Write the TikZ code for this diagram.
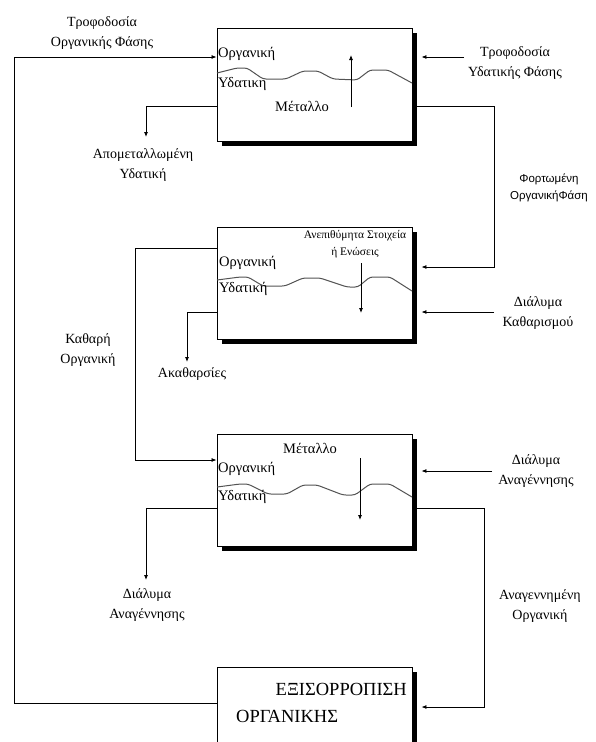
\documentclass[tikz,border=0pt]{standalone}
\usepackage{fontspec}
\setmainfont{Liberation Serif}
\newfontfamily\grsans{Liberation Sans}
\usetikzlibrary{arrows.meta,shadows}
\begin{document}
\begin{tikzpicture}[x=1pt,y=-1pt,
  lbl/.style={font=\fontsize{14}{19.5}\selectfont, align=center, inner sep=0pt},
  sanslbl/.style={font=\grsans\fontsize{11.5}{17}\selectfont, align=center, inner sep=0pt},
  inlbl/.style={font=\fontsize{14.5}{15}\selectfont, inner sep=0pt, anchor=west},
  unit/.style={draw, line width=0.9pt, fill=white, minimum width=195pt, inner sep=0pt,
    drop shadow={shadow xshift=5pt, shadow yshift=-5pt, fill=black, opacity=1}},
  conn/.style={line width=0.8pt},
  arr/.style={conn, -{Latex[length=5pt,width=4pt]}},
  wave/.style={line width=1pt, gray!65!black, rounded corners=3pt},
]
\path[use as bounding box] (0,0) rectangle (595,742);
\clip (0,0) rectangle (595,742);

% units
\node[unit, minimum height=113pt] (b1) at (314.5,84.5) {};
\node[unit, minimum height=112pt] (b2) at (314.5,283) {};
\node[unit, minimum height=112pt] (b3) at (314.5,490) {};
\node[unit, minimum height=110pt] (b4) at (314.5,722) {};

% waves
\draw[wave] (217,73) -- (237,68) -- (247,68) -- (263,79) -- (286,79) -- (303,71) -- (318,71) -- (333,79) -- (357,80) -- (370,70) -- (388,70) -- (412,83);
\draw[wave] (217,280) -- (240,277) -- (248,277) -- (263,286) -- (285,286) -- (303,278) -- (320,278) -- (347,287) -- (358,287) -- (370,277) -- (390,277) -- (412,291);
\draw[wave] (217,487) -- (240,484) -- (248,484) -- (268,494) -- (287,494) -- (303,485) -- (317,485) -- (343,495) -- (355,495) -- (370,484) -- (390,484) -- (412,497);

% inner texts
\node[inlbl] (o1) at (218,54) {Οργανική};
\node[inlbl] (y1) at (218,84) {Υδατικη};
\node[inlbl, anchor=center] (m1) at (302,106) {Μέταλλο};
\node[font=\fontsize{11.5}{17}\selectfont, align=center, inner sep=0pt] (u2) at (355,244) {Ανεπιθύμητα Στοιχεία\\ή Ενώσεις};
\node[inlbl] (o2) at (219,263) {Οργανική};
\node[inlbl] (y2) at (219,289) {Υδατική};
\node[inlbl, anchor=center] (m3) at (310,448) {Μέταλλο};
\node[inlbl] (o3) at (218,469) {Οργανική};
\node[inlbl] (y3) at (218,497) {Υδατική};
\node[font=\fontsize{18.5}{20}\selectfont, anchor=base east, inner sep=0pt] (t4a) at (407,695) {ΕΞΙΣΟΡΡΟΠΙΣΗ};
\node[font=\fontsize{18.5}{20}\selectfont, anchor=base west, inner sep=0pt] (t4b) at (236,722) {ΟΡΓΑΝΙΚΗΣ};

% inner arrows
\coordinate (a1s) at (351,107); \coordinate (a1e) at (351,55);
\coordinate (a2s) at (361,263); \coordinate (a2e) at (361,313);
\coordinate (a3s) at (360,458); \coordinate (a3e) at (360,520);
\draw[arr] (a1s) -- (a1e);
\draw[arr] (a2s) -- (a2e);
\draw[arr] (a3s) -- (a3e);

% outer labels
\node[lbl] (lFO) at (102,33) {Τροφοδοσία\\Οργανικής Φάσης};
\node[lbl] (lFA) at (515,63) {Τροφοδοσία\\Υδατικής Φάσης};
\node[lbl] (lDA) at (143,165) {Απομεταλλωμένη\\Υδατική};
\node[sanslbl] (lLO) at (549,188) {Φορτωμένη\\ΟργανικήΦάση};
\node[lbl] (lKL) at (538,313) {Διάλυμα\\Καθαρισμού};
\node[lbl] (lKO) at (88,350) {Καθαρή\\Οργανική};
\node[lbl] (lAK) at (192,374) {Ακαθαρσίες};
\node[lbl] (lRA) at (536,471) {Διάλυμα\\Αναγέννησης};
\node[lbl] (lRB) at (147,605) {Διάλυμα\\Αναγέννησης};
\node[lbl] (lRO) at (540,606) {Αναγεννημένη\\Οργανική};

% free ends / corners
\coordinate (cL) at (14,57);
\coordinate (fA) at (464,57);
\coordinate (dA) at (146,137);
\coordinate (cR1) at (494,106);
\coordinate (kA) at (494,312);
\coordinate (kO) at (135,248);
\coordinate (iA) at (187,362);
\coordinate (rA) at (492,471);
\coordinate (rB) at (146,580);
\coordinate (cR3) at (484,508);

% connectors
\draw[arr] (b4.west |- 0,703) -| (cL) -- (b1.west |- cL);
\draw[arr] (fA) -- ([xshift=9pt]b1.east |- fA);
\draw[arr] (b1.west |- 0,106) -| (dA);
\draw[arr] (b1.east |- cR1) -- (cR1) |- ([xshift=9pt]b2.east |- 0,267);
\draw[arr] (kA) -- ([xshift=9pt]b2.east |- kA);
\draw[arr] (b2.west |- kO) -- (kO) |- (b3.west |- 0,460);
\draw[arr] (b2.west |- 0,312) -| (iA);
\draw[arr] (rA) -- ([xshift=9pt]b3.east |- rA);
\draw[arr] (b3.west |- 0,508) -| (rB);
\draw[arr] (b3.east |- cR3) -- (cR3) |- ([xshift=9pt]b4.east |- 0,707);
\end{tikzpicture}
\end{document}
